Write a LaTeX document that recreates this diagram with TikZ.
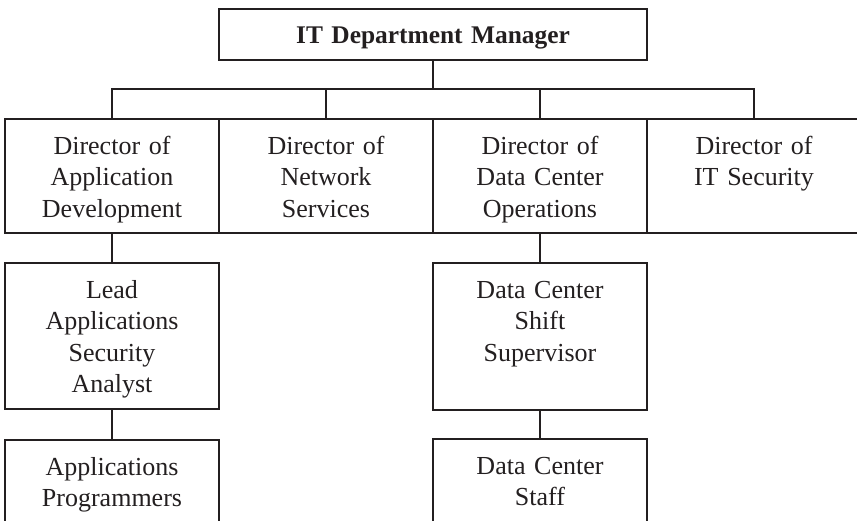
\documentclass[tikz,border=0pt]{standalone}
\usepackage{fontspec}
\setmainfont{Liberation Serif}
\usepackage{tikz}
\usetikzlibrary{positioning}
\definecolor{ink}{HTML}{231F20}
\tikzstyle{box} = [draw=ink, text=ink, line width=2.5pt, outer sep=0pt, inner sep=0pt, minimum width=214pt, text width=206pt, align=center, text height=35pt, font=\fontsize{26pt}{31.5pt}\selectfont]
\tikzstyle{line} = [draw=ink, line width=2.5pt]

\begin{document}
\begin{tikzpicture}[x=1pt,y=-1pt]
\useasboundingbox (0,0) rectangle (857,520);
\clip (0,0) rectangle (857,520);
\node (mgr) [box, anchor=north, minimum width=428pt, text width=420pt, text height=34pt, text depth=17pt, font=\bfseries\fontsize{25.4pt}{30pt}\selectfont] at (433,9) {IT Department Manager};

\node (dirapp) [box, anchor=north, text depth=79pt] at (112,119) {Director of\\Application\\Development};
\node (dirnet) [box, text depth=79pt, right=0pt of dirapp] {Director of\\Network\\Services};
\node (dirops) [box, text depth=79pt, right=0pt of dirnet] {Director of\\Data Center\\Operations};
\node (dirsec) [box, text depth=79pt, right=0pt of dirops] {Director of\\IT Security};

\node (lead) [box, text depth=111pt, below=30pt of dirapp] {Lead\\Applications\\Security\\Analyst};
\node (prog) [box, text depth=100pt, below=31pt of lead] {Applications\\Programmers};
\node (shift) [box, text depth=112pt, below=30pt of dirops] {Data Center\\Shift\\Supervisor};
\node (staff) [box, text depth=100pt, below=29pt of shift] {Data Center\\Staff};

\draw [line] (mgr.south) -- ++(0,29) coordinate (bar);
\draw [line] (dirapp.north) |- (bar) -| (dirsec.north);
\draw [line] (bar -| dirnet.north) -- (dirnet.north);
\draw [line] (bar -| dirops.north) -- (dirops.north);
\draw [line] (dirapp.south) -- (lead.north);
\draw [line] (lead.south) -- (prog.north);
\draw [line] (dirops.south) -- (shift.north);
\draw [line] (shift.south) -- (staff.north);
\end{tikzpicture}
\end{document}
